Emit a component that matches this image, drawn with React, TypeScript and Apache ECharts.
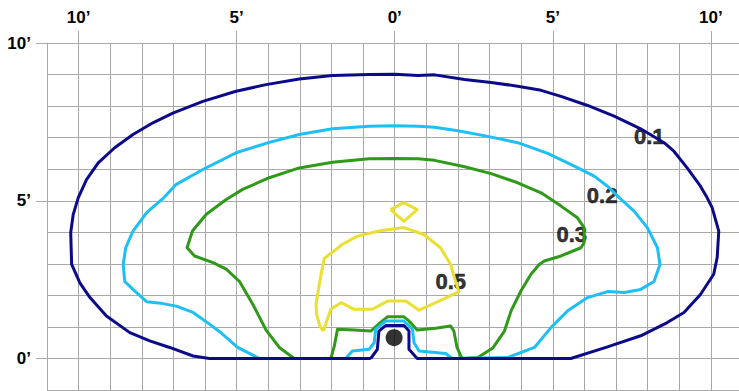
import React, { useEffect, useRef } from "react";
import * as echarts from "echarts";

// Tick label positions (feet)
const xLabelValues = [-10, -5, 0, 5, 10];
const yLabelValues = [0, 5, 10];

// Iso-footcandle contours, [x ft, y ft]
const contour01: [number, number][] = [
  [-0.76, 0], [-5.86, 0], [-6.38, 0.08], [-7.12, 0.35], [-7.75, 0.56], [-8.38, 0.82],
  [-9.12, 1.35], [-9.64, 1.93], [-9.96, 2.4], [-10.22, 2.98], [-10.25, 3.99], [-10.17, 4.57],
  [-10.01, 5.1], [-9.75, 5.67], [-9.38, 6.2], [-8.86, 6.68], [-8.28, 7.1], [-7.65, 7.47],
  [-7.02, 7.78], [-6.07, 8.15], [-5.02, 8.47], [-4.07, 8.68], [-3.02, 8.86], [-1.97, 8.97],
  [-0.81, 9.0], [0, 9.01], [0.74, 8.97], [1.26, 8.99], [2.21, 8.84], [3.05, 8.75],
  [3.89, 8.63], [4.63, 8.5], [5.26, 8.31], [6.1, 8.02], [6.94, 7.68], [7.78, 7.28],
  [8.52, 6.84], [8.83, 6.57], [9.25, 6.04], [9.67, 5.46], [9.88, 5.1], [10.04, 4.78],
  [10.25, 4.04], [10.2, 3.2], [10.09, 2.67], [9.67, 2.03], [9.15, 1.46], [8.62, 1.14],
  [7.78, 0.72], [6.73, 0.37], [5.57, 0], [0.71, 0], [0.45, 0.29], [0.45, 0.87],
  [0.29, 1.05], [-0.28, 1.05], [-0.5, 0.87], [-0.55, 0.29], [-0.76, 0],
];

const contour02: [number, number][] = [
  [-1.55, 0], [-4.28, 0], [-4.97, 0.35], [-5.54, 0.85], [-5.86, 1.09], [-6.38, 1.46],
  [-6.91, 1.66], [-7.33, 1.74], [-7.85, 1.8], [-8.28, 2.19], [-8.54, 2.44], [-8.59, 2.98],
  [-8.51, 3.51], [-8.28, 4.04], [-7.85, 4.62], [-7.3, 5.1], [-6.91, 5.52], [-6.07, 5.99],
  [-5.02, 6.52], [-3.97, 6.85], [-3.02, 7.1], [-1.97, 7.28], [-0.81, 7.36], [0, 7.38],
  [0.74, 7.36], [1.26, 7.33], [2.0, 7.22], [2.94, 7.04], [3.89, 6.84], [4.84, 6.5],
  [5.68, 6.1], [6.31, 5.78], [6.73, 5.46], [7.1, 5.1], [7.57, 4.67], [7.99, 4.15],
  [8.31, 3.51], [8.39, 2.98], [8.2, 2.44], [7.78, 2.19], [7.26, 2.09], [6.73, 2.12],
  [6.1, 1.93], [5.47, 1.51], [4.94, 0.98], [4.42, 0.35], [3.57, 0.03], [1.82, 0],
  [1.61, 0.16], [0.77, 0.24], [0.61, 0.5], [0.56, 0.93], [0.29, 1.19], [-0.28, 1.19],
  [-0.6, 0.93], [-0.65, 0.5], [-0.81, 0.29], [-1.34, 0.24], [-1.55, 0],
];

const contour03: [number, number][] = [
  [-2.02, 0], [-3.18, 0], [-3.65, 0.35], [-4.07, 0.9], [-4.49, 1.72], [-4.91, 2.44],
  [-5.33, 2.83], [-5.75, 3.04], [-6.33, 3.25], [-6.57, 3.51], [-6.4, 4.04], [-5.96, 4.57],
  [-5.33, 5.04], [-4.81, 5.36], [-3.97, 5.73], [-3.02, 6.04], [-1.97, 6.22], [-0.81, 6.33],
  [0, 6.34], [0.74, 6.33], [1.26, 6.28], [2.21, 6.08], [3.05, 5.86], [3.89, 5.57],
  [4.63, 5.25], [5.26, 4.83], [5.78, 4.46], [5.99, 4.15], [5.99, 3.67], [5.89, 3.51],
  [5.26, 3.25], [4.73, 3.09], [4.57, 2.98], [4.31, 2.67], [3.99, 2.14], [3.68, 1.51],
  [3.47, 0.87], [3.1, 0.33], [2.63, 0.03], [2.13, 0], [1.97, 0.35], [1.87, 0.87],
  [1.77, 1.03], [1.29, 0.96], [0.71, 0.9], [0.45, 1.19], [0.29, 1.32], [-0.23, 1.32],
  [-0.39, 1.19], [-0.76, 0.87], [-1.28, 0.9], [-1.81, 0.93], [-1.91, 0.4], [-2.02, 0],
];

const contour05: [number, number][] = [
  [-2.26, 0.87], [-2.37, 1.03], [-2.47, 1.4], [-2.49, 1.72], [-2.44, 2.03], [-2.33, 2.67],
  [-2.23, 3.17], [-1.65, 3.62], [-1.18, 3.88], [-0.5, 4.04], [0.29, 4.15], [0.92, 3.93],
  [1.45, 3.51], [1.77, 2.98], [1.87, 2.61], [2.03, 2.12], [1.4, 1.82], [0.77, 1.53],
  [0.35, 1.82], [-0.23, 1.82], [-0.71, 1.56], [-1.28, 1.56], [-1.7, 1.77], [-2.02, 1.56],
  [-2.26, 0.87],
];

const contour05b: [number, number][] = [
  [-0.13, 4.72], [0.29, 4.94], [0.71, 4.72], [0.29, 4.35], [-0.13, 4.72],
];

const contourLabels: [number, number, string][] = [
  [8.05, 7.05, "0.1"],
  [6.56, 5.17, "0.2"],
  [5.6, 3.93, "0.3"],
  [1.77, 2.45, "0.5"],
];

const luminaire: [number, number][] = [[-0.02, 0.66]];

const NAVY = "#0b0b8a";
const SKY = "#1dbff5";
const GREEN = "#30991a";
const YELLOW = "#ebdf33";
const GRID = "#a9a9a9";
const FONT = "'Liberation Sans', Arial, Helvetica, sans-serif";

const X_MIN = -11;
const X_MAX = 10.89;
const Y_MIN = -1.03;
const Y_MAX = 10;

function lineSeries(data: [number, number][], color: string) {
  return {
    type: "line",
    xAxisIndex: 0,
    yAxisIndex: 0,
    data,
    showSymbol: false,
    symbol: "none",
    smooth: false,
    clip: false,
    lineStyle: { color, width: 3, join: "round" },
    silent: true,
  };
}

const labelStyle = {
  color: "#000",
  fontFamily: FONT,
  fontWeight: "bold",
  fontSize: 17,
};

export default function App() {
  const ref = useRef<HTMLDivElement>(null);
  useEffect(() => {
    if (!ref.current) return;
    const chart = echarts.init(ref.current, undefined, { renderer: "svg" });
    chart.setOption({
      animation: false,
      backgroundColor: "#ffffff",
      grid: { left: 47, top: 43, right: -2, bottom: -1 },
      xAxis: [
        {
          type: "value",
          position: "top",
          min: X_MIN,
          max: X_MAX,
          minInterval: 1,
          maxInterval: 1,
          axisLine: { show: true, onZero: false, lineStyle: { color: GRID, width: 1 } },
          axisTick: { show: false },
          axisLabel: { show: false },
          splitLine: { show: true, lineStyle: { color: GRID, width: 1 } },
        },
        {
          type: "value",
          position: "top",
          min: X_MIN,
          max: X_MAX,
          minInterval: 1,
          maxInterval: 1,
          axisLine: { show: false, onZero: false },
          axisTick: {
            show: true,
            customValues: xLabelValues,
            length: 12,
            lineStyle: { color: GRID, width: 1 },
          },
          axisLabel: {
            show: true,
            customValues: xLabelValues,
            formatter: (v: number) => Math.abs(v) + "\u2019",
            margin: 17,
            ...labelStyle,
          },
          splitLine: { show: false },
        },
      ],
      yAxis: [
        {
          type: "value",
          position: "left",
          min: Y_MIN,
          max: Y_MAX,
          minInterval: 1,
          maxInterval: 1,
          axisLine: { show: true, onZero: false, lineStyle: { color: GRID, width: 1 } },
          axisTick: { show: false },
          axisLabel: { show: false },
          splitLine: { show: true, lineStyle: { color: GRID, width: 1 } },
        },
        {
          type: "value",
          position: "left",
          min: Y_MIN,
          max: Y_MAX,
          minInterval: 1,
          maxInterval: 1,
          axisLine: { show: false, onZero: false },
          axisTick: {
            show: true,
            customValues: yLabelValues,
            length: 11,
            lineStyle: { color: GRID, width: 1 },
          },
          axisLabel: {
            show: true,
            customValues: yLabelValues,
            formatter: (v: number) => v + "\u2019",
            margin: 16,
            ...labelStyle,
          },
          splitLine: { show: false },
        },
      ],
      series: [
        lineSeries(contour05, YELLOW),
        lineSeries(contour05b, YELLOW),
        lineSeries(contour03, GREEN),
        lineSeries(contour02, SKY),
        lineSeries(contour01, NAVY),
        {
          type: "scatter",
          xAxisIndex: 0,
          yAxisIndex: 0,
          data: luminaire,
          symbol: "circle",
          symbolSize: 17,
          itemStyle: { color: "#000" },
          silent: true,
        },
        {
          type: "scatter",
          xAxisIndex: 0,
          yAxisIndex: 0,
          data: contourLabels,
          symbol: "circle",
          symbolSize: 1,
          itemStyle: { color: "transparent" },
          silent: true,
          label: {
            show: true,
            position: "inside",
            formatter: (p: any) => p.data[2],
            color: "#000",
            fontFamily: FONT,
            fontWeight: "bold",
            fontSize: 22,
            textBorderColor: "#000",
            textBorderWidth: 0.6,
          },
        },
      ],
    });
    return () => chart.dispose();
  }, []);
  return (
    <div
      ref={ref}
      style={{ position: "absolute", left: 0, top: 0, width: 739, height: 391 }}
    />
  );
}
